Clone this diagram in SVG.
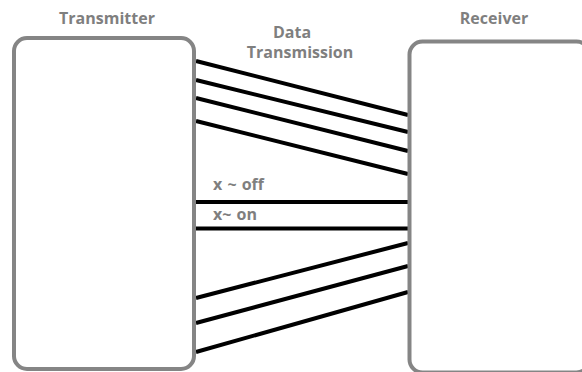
<svg xmlns="http://www.w3.org/2000/svg" width="582" height="372" viewBox="0 0 582 372">
  <style>
    .box { fill: #ffffff; stroke: #858585; stroke-width: 4; }
    .wire { stroke: #000000; stroke-width: 4; fill: none; }
    .label { font-family: "Open Sans", "Noto Sans", sans-serif; font-weight: bold; font-size: 16px; fill: #7f7f7f; }
  </style>
  <rect width="582" height="372" fill="#ffffff"/>

  <g id="connectors">
    <line class="wire" x1="196" y1="61" x2="408" y2="115"/>
    <line class="wire" x1="196" y1="80" x2="408" y2="132"/>
    <line class="wire" x1="196" y1="98" x2="408" y2="151"/>
    <line class="wire" x1="196" y1="121" x2="408" y2="174"/>
    <line class="wire" x1="196" y1="202" x2="408" y2="202"/>
    <line class="wire" x1="196" y1="228.5" x2="408" y2="228.5"/>
    <line class="wire" x1="196" y1="298" x2="408" y2="243"/>
    <line class="wire" x1="196" y1="323" x2="408" y2="266"/>
    <line class="wire" x1="196" y1="352" x2="408" y2="292"/>
    <text class="label" x="213" y="190" word-spacing="1">x ~ off</text>
    <text class="label" x="213" y="220" word-spacing="1">x~ on</text>
  </g>

  <g id="transmitter">
    <rect class="box" x="14" y="38" width="180" height="331" rx="13" ry="13"/>
    <text class="label" x="107" y="24" text-anchor="middle">Transmitter</text>
  </g>

  <g id="receiver">
    <rect class="box" x="409.5" y="41.5" width="180" height="331" rx="13" ry="13"/>
    <text class="label" x="494" y="24" text-anchor="middle">Receiver</text>
  </g>

  <g id="data-transmission">
    <text class="label" x="292" y="38" text-anchor="middle">Data</text>
    <text class="label" x="300" y="58" text-anchor="middle">Transmission</text>
  </g>
</svg>
